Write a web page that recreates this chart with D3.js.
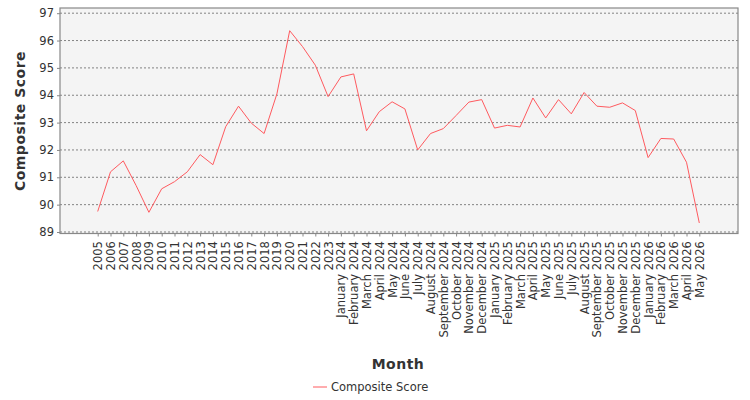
<!DOCTYPE html>
<html><head><meta charset="utf-8">
<script src="https://cdn.jsdelivr.net/npm/d3@7"></script>
<style>body{margin:0;background:#fff}text{font-family:"DejaVu Sans",sans-serif}</style>
</head><body><svg id="c" width="750" height="400"></svg>
<script>
const categories = ["2005","2006","2007","2008","2009","2010","2011","2012","2013","2014","2015","2016","2017","2018","2019","2020","2021","2022","2023",
"January 2024","February 2024","March 2024","April 2024","May 2024","June 2024","July 2024","August 2024","September 2024","October 2024","November 2024","December 2024",
"January 2025","February 2025","March 2025","April 2025","May 2025","June 2025","July 2025","August 2025","September 2025","October 2025","November 2025","December 2025",
"January 2026","February 2026","March 2026","April 2026","May 2026"];
const values = [89.75,91.2,91.6,90.7,89.72,90.58,90.84,91.2,91.83,91.46,92.85,93.6,92.98,92.6,94.05,96.36,95.78,95.1,93.95,
94.67,94.78,92.7,93.4,93.76,93.5,92.0,92.6,92.78,93.26,93.75,93.84,
92.8,92.9,92.84,93.9,93.17,93.84,93.32,94.1,93.6,93.56,93.72,93.44,
91.72,92.42,92.4,91.55,89.33];
const yTicks = [89,90,91,92,93,94,95,96,97];
const seriesName = "Composite Score";

const svg = d3.select("#c");
const L=60,R=738,T=8,B=233.5;
svg.append("rect").attr("x",L).attr("y",T).attr("width",R-L).attr("height",B-T).attr("fill","#f4f4f4");
const x = d3.scalePoint().domain(categories).range([L+37.7,R-38.7]);
const y = d3.scaleLinear().domain([88.945,97.19]).range([B,T]);
svg.append("g").selectAll("line").data(yTicks).join("line")
 .attr("x1",L).attr("x2",R).attr("y1",d=>y(d)).attr("y2",d=>y(d))
 .attr("stroke","#666").attr("stroke-dasharray","2,2").attr("stroke-width",0.8);
svg.append("rect").attr("x",L).attr("y",T).attr("width",R-L).attr("height",B-T).attr("fill","none").attr("stroke","#888").attr("stroke-width",1.2);
const ya = svg.append("g").attr("transform",`translate(${L},0)`).call(d3.axisLeft(y).tickValues(yTicks).tickSize(3).tickFormat(d3.format("d")));
ya.select(".domain").remove();
ya.selectAll("text").attr("font-size",11.5).attr("fill","#333");
ya.selectAll("line").attr("stroke","#888");
const xa = svg.append("g").attr("transform",`translate(0,${B})`).call(d3.axisBottom(x).tickSize(3));
xa.select(".domain").remove();
xa.selectAll("line").attr("stroke","#888");
xa.selectAll("text").attr("font-size",11.5).attr("fill","#333")
 .attr("transform","rotate(-90)").attr("text-anchor","end").attr("dx","-0.4em").attr("dy","-0.05em").attr("x",-3).attr("y",x.step()/2-6);
xa.selectAll("text").attr("y",0).attr("dy","0.35em");
svg.append("path").datum(values).attr("fill","none").attr("stroke","#ff5a5f").attr("stroke-width",1)
 .attr("d",d3.line().x((d,i)=>x(categories[i])).y(d=>y(d)));
svg.append("text").attr("transform","translate(25,121) rotate(-90)").attr("text-anchor","middle").attr("font-size",14).attr("fill","#333").attr("font-weight","bold").attr("letter-spacing",0.5).text("Composite Score");
svg.append("text").attr("x",398).attr("y",369).attr("text-anchor","middle").attr("font-size",14).attr("fill","#333").attr("font-weight","bold").attr("letter-spacing",0.5).text("Month");
svg.append("line").attr("x1",313).attr("x2",327).attr("y1",387).attr("y2",387).attr("stroke","#ff5a5f");
svg.append("text").attr("x",331).attr("y",391).attr("font-size",11.5).attr("fill","#333").text(seriesName);
</script></body></html>
